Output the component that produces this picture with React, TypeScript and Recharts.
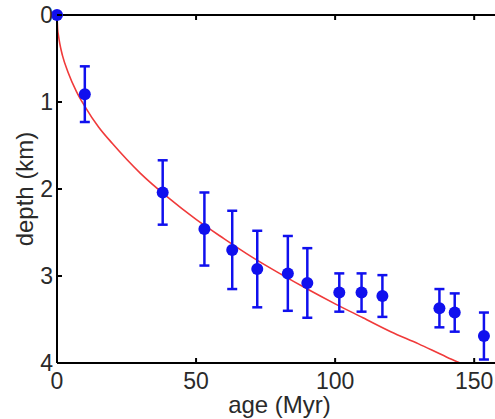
import React from "react";
import {
  ComposedChart,
  Line,
  Scatter,
  ErrorBar,
  XAxis,
  YAxis,
} from "recharts";

const AGES = [0, 10, 38, 53, 63, 72, 83, 90, 101.5, 109.5, 117, 137.5, 143, 153.5];
const DEPTHS = [0, 0.91, 2.04, 2.46, 2.7, 2.92, 2.97, 3.08, 3.19, 3.19, 3.23, 3.37, 3.42, 3.69];
const ERRORS = [0, 0.32, 0.37, 0.42, 0.45, 0.44, 0.43, 0.4, 0.22, 0.22, 0.24, 0.22, 0.22, 0.27];

// model curve
const CURVE_AGES = [0, 0.25, 0.5, 1, 2, 4, 7, 10, 15, 20, 30, 40, 50, 60, 70, 80, 90, 100, 110, 120, 130, 140, 145];
const CURVE_DEPTHS = [0, 0.17, 0.23, 0.33, 0.47, 0.66, 0.88, 1.05, 1.29, 1.48, 1.82, 2.1, 2.35, 2.57, 2.78, 2.97, 3.15, 3.32, 3.48, 3.64, 3.78, 3.93, 4.0];

const X_TICKS = [0, 50, 100, 150];
const Y_TICKS = [0, 1, 2, 3, 4];

const points = AGES.map((age, i) => ({ age, depth: DEPTHS[i], err: ERRORS[i] }));
const curve = CURVE_AGES.map((age, i) => ({ age, depth: CURVE_DEPTHS[i] }));

const FONT = "'Liberation Sans', Arial, sans-serif";
const TEXT = "#2a2a2a";
const MARK = 5;

function BottomTick({ x, y, payload }: any) {
  return (
    <g>
      <line x1={x} y1={y - 10} x2={x} y2={y - 10 - MARK} stroke="#000" strokeWidth={2} />
      <text x={x} y={y} dy="0.71em" textAnchor="middle" fontSize={23} fontFamily={FONT} fill={TEXT}>
        {payload.value}
      </text>
    </g>
  );
}

function LeftTick({ x, y, payload }: any) {
  return (
    <g>
      <line x1={x + 4} y1={y} x2={x + 4 + MARK} y2={y} stroke="#000" strokeWidth={2} />
      <text x={x} y={y} dy="0.36em" textAnchor="end" fontSize={23} fontFamily={FONT} fill={TEXT}>
        {payload.value}
      </text>
    </g>
  );
}

function TopTick({ x, y }: any) {
  return <line x1={x} y1={y} x2={x} y2={y + MARK} stroke="#000" strokeWidth={2} />;
}

function RightTick({ x, y }: any) {
  return <line x1={x} y1={y} x2={x - MARK} y2={y} stroke="#000" strokeWidth={2} />;
}

function Dot({ cx, cy }: any) {
  return <circle cx={cx} cy={cy} r={6} fill="#1010ee" />;
}

function NoShape() {
  return <g />;
}

export default function App() {
  return (
    <div
      style={{
        position: "absolute",
        left: 0,
        top: 0,
        width: 495,
        height: 419,
        overflow: "hidden",
        background: "#fff",
      }}
    >
      <ComposedChart
        width={505}
        height={419}
        margin={{ top: 14, right: 2, bottom: 0, left: 17 }}
      >
        <XAxis
          dataKey="age"
          type="number"
          domain={[0, 160]}
          ticks={X_TICKS}
          height={56}
          tickSize={0}
          tickMargin={10}
          tick={<BottomTick />}
          axisLine={{ stroke: "#000", strokeWidth: 2 }}
          label={{
            value: "age (Myr)",
            position: "insideBottom",
            offset: 6,
            fontSize: 24,
            fontFamily: FONT,
            fill: TEXT,
          }}
        />
        <XAxis
          xAxisId="top"
          dataKey="age"
          orientation="top"
          type="number"
          domain={[0, 160]}
          ticks={[50, 100, 150]}
          height={1}
          tickSize={0}
          tickMargin={0}
          tick={<TopTick />}
          axisLine={{ stroke: "#000", strokeWidth: 2 }}
        />
        <YAxis
          type="number"
          domain={[0, 4]}
          reversed
          ticks={Y_TICKS}
          width={40}
          tickSize={0}
          tickMargin={4}
          tick={<LeftTick />}
          axisLine={{ stroke: "#000", strokeWidth: 2 }}
          label={{
            value: "depth (km)",
            angle: -90,
            position: "center",
            dx: -13,
            fontSize: 24,
            fontFamily: FONT,
            fill: TEXT,
          }}
        />
        <YAxis
          yAxisId="right"
          orientation="right"
          type="number"
          domain={[0, 4]}
          reversed
          ticks={[1, 2, 3]}
          width={1}
          tickSize={0}
          tickMargin={0}
          tick={<RightTick />}
          axisLine={{ stroke: "#000", strokeWidth: 2 }}
        />
        <Line
          data={curve}
          dataKey="depth"
          type="monotone"
          stroke="#f03a3a"
          strokeWidth={1.6}
          dot={false}
          isAnimationActive={false}
        />
        {/* invisible series so the frame axes get registered */}
        <Scatter
          data={points}
          dataKey="depth"
          xAxisId="top"
          yAxisId="right"
          shape={<NoShape />}
          isAnimationActive={false}
        />
        <Scatter
          data={points}
          dataKey="depth"
          fill="#1010ee"
          shape={<Dot />}
          isAnimationActive={false}
        >
          <ErrorBar
            dataKey="err"
            direction="y"
            width={5}
            stroke="#1010ee"
            strokeWidth={2.5}
            isAnimationActive={false}
          />
        </Scatter>
      </ComposedChart>
    </div>
  );
}
